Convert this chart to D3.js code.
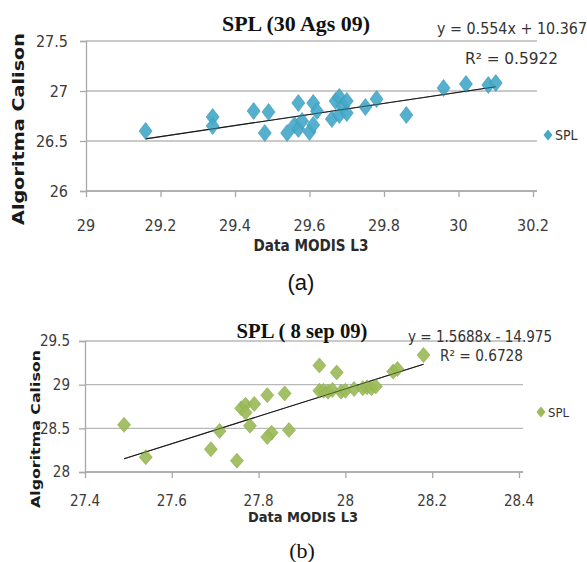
<!DOCTYPE html>
<html>
<head>
<meta charset="utf-8">
<script src="https://cdn.jsdelivr.net/npm/d3@7"></script>
<style>
  html, body { margin: 0; padding: 0; background: #fff; }
  svg { display: block; }
  .cond { font-family: "DejaVu Sans Condensed", "DejaVu Sans", sans-serif; font-stretch: condensed; }
</style>
</head>
<body>
<svg id="chart" width="587" height="562"></svg>
<script>
// ---- Panel (a): SPL 30 Ags 09 ----
const modisA = [29.16, 29.34, 29.34, 29.45, 29.48, 29.49, 29.54, 29.56, 29.57, 29.57,
                29.58, 29.60, 29.61, 29.62, 29.61, 29.66, 29.67, 29.68, 29.68, 29.69,
                29.70, 29.70, 29.75, 29.78, 29.86, 29.96, 30.02, 30.08, 30.10];
const calisonA = [26.60, 26.74, 26.65, 26.80, 26.58, 26.79, 26.58, 26.66, 26.88, 26.62,
                  26.70, 26.59, 26.88, 26.80, 26.66, 26.72, 26.90, 26.94, 26.76, 26.85,
                  26.78, 26.90, 26.84, 26.92, 26.76, 27.03, 27.07, 27.06, 27.08];
const xTicksA = [29, 29.2, 29.4, 29.6, 29.8, 30, 30.2];
const xTickLabelsA = ["29", "29.2", "29.4", "29.6", "29.8", "30", "30.2"];
const yTicksA = [26, 26.5, 27, 27.5];
const yTickLabelsA = ["26", "26.5", "27", "27.5"];
const trendA = { slope: 0.554, intercept: 10.367 };
const equationA = "y = 0.554x + 10.367";
const r2A = "R² = 0.5922";
const titleA = "SPL (30 Ags 09)";

// ---- Panel (b): SPL 8 sep 09 ----
const modisB = [27.49, 27.54, 27.69, 27.71, 27.75, 27.76, 27.77, 27.77, 27.79, 27.78,
                27.82, 27.83, 27.82, 27.86, 27.87, 27.94, 27.94, 27.95, 27.96, 27.97,
                27.98, 27.99, 28.00, 28.02, 28.04, 28.05, 28.06, 28.07, 28.11, 28.12, 28.18];
const calisonB = [28.54, 28.17, 28.26, 28.47, 28.13, 28.73, 28.77, 28.68, 28.78, 28.53,
                  28.88, 28.45, 28.40, 28.90, 28.48, 28.93, 29.22, 28.93, 28.92, 28.94,
                  29.14, 28.92, 28.93, 28.95, 28.96, 28.97, 28.96, 28.98, 29.15, 29.18, 29.34];
const xTicksB = [27.4, 27.6, 27.8, 28, 28.2, 28.4];
const xTickLabelsB = ["27.4", "27.6", "27.8", "28", "28.2", "28.4"];
const yTicksB = [28, 28.5, 29, 29.5];
const yTickLabelsB = ["28", "28.5", "29", "29.5"];
const trendB = { slope: 1.5688, intercept: -14.975 };
const equationB = "y = 1.5688x - 14.975";
const r2B = "R² = 0.6728";
const titleB = "SPL ( 8 sep 09)";

const xAxisTitle = "Data MODIS L3";
const yAxisTitle = "Algoritma Calison";
const seriesName = "SPL";

const svg = d3.select("#chart");

function diamond(hw, hh) {
  return `M0,${-hh}L${hw},0L0,${hh}L${-hw},0Z`;
}

function drawPanel(p) {
  const g = svg.append("g");
  const x = d3.scaleLinear().domain(d3.extent(p.xTicks)).range([p.left, p.right]);
  const y = d3.scaleLinear().domain(d3.extent(p.yTicks)).range([p.bottom, p.top]);

  // horizontal gridlines
  g.append("g").selectAll("line").data(p.yTicks).join("line")
    .attr("x1", p.left).attr("x2", p.right + 4)
    .attr("y1", d => y(d)).attr("y2", d => y(d))
    .attr("stroke", "#b8b8b8").attr("stroke-width", 1.3);

  // x axis (ticks below the line)
  const xAxis = d3.axisBottom(x).tickValues(p.xTicks).tickSize(6).tickFormat("");
  const gx = g.append("g").attr("transform", `translate(0,${p.bottom})`).call(xAxis);
  gx.select(".domain").attr("stroke", "#a8a8a8").attr("stroke-width", 1.3).attr("d", `M${p.left},0H${p.right + 4}`);
  gx.selectAll(".tick line").attr("stroke", "#a8a8a8").attr("stroke-width", 1.3);

  // y axis
  const yAxis = d3.axisLeft(y).tickValues(p.yTicks).tickSize(6).tickFormat("");
  const gy = g.append("g").attr("transform", `translate(${p.left},0)`).call(yAxis);
  gy.select(".domain").attr("stroke", "#a8a8a8").attr("stroke-width", 1.3);
  gy.selectAll(".tick line").attr("stroke", "#a8a8a8").attr("stroke-width", 1.3);

  // tick labels
  g.append("g").selectAll("text").data(p.xTicks).join("text")
    .attr("class", "cond")
    .attr("x", d => x(d)).attr("y", p.xLabelY)
    .attr("text-anchor", "middle").attr("font-size", p.tickSize)
    .attr("fill", "#3a3a3a")
    .text((d, i) => p.xTickLabels[i]);
  g.append("g").selectAll("text").data(p.yTicks).join("text")
    .attr("class", "cond")
    .attr("x", p.left - p.yLabelGap).attr("y", d => y(d) + p.tickSize * 0.36)
    .attr("text-anchor", "end").attr("font-size", p.tickSize)
    .attr("fill", "#3a3a3a")
    .text((d, i) => p.yTickLabels[i]);

  // trend line over the range of the data
  const [x0, x1] = d3.extent(p.xs);
  g.append("line")
    .attr("x1", x(x0)).attr("y1", y(p.trend.slope * x0 + p.trend.intercept))
    .attr("x2", x(x1)).attr("y2", y(p.trend.slope * x1 + p.trend.intercept))
    .attr("stroke", "#1a1a1a").attr("stroke-width", 1.1);

  // diamond markers
  g.append("g").selectAll("path").data(p.xs.map((v, i) => [v, p.ys[i]])).join("path")
    .attr("transform", d => `translate(${x(d[0])},${y(d[1])})`)
    .attr("d", diamond(p.mw, p.mh))
    .attr("fill", p.color).attr("fill-opacity", 0.92)
    .attr("stroke", p.edge).attr("stroke-width", 0.6);

  // trend line drawn again thinly over the markers
  g.append("line")
    .attr("x1", x(x0)).attr("y1", y(p.trend.slope * x0 + p.trend.intercept))
    .attr("x2", x(x1)).attr("y2", y(p.trend.slope * x1 + p.trend.intercept))
    .attr("stroke", "#1a1a1a").attr("stroke-width", 0.8).attr("stroke-opacity", 0.7);

  // title
  g.append("text")
    .attr("x", p.titleX).attr("y", p.titleY)
    .attr("text-anchor", "middle")
    .attr("font-family", "'Liberation Serif', 'Times New Roman', serif")
    .attr("font-weight", "bold").attr("font-size", p.titleSize)
    .attr("textLength", p.titleLen).attr("lengthAdjust", "spacingAndGlyphs")
    .attr("fill", "#111")
    .text(p.title);

  // regression equation and R²
  g.append("text").attr("class", "cond")
    .attr("x", p.eqX).attr("y", p.eqY)
    .attr("font-size", p.eqSize).attr("fill", "#333")
    .attr("textLength", p.eqLen).attr("lengthAdjust", "spacingAndGlyphs")
    .text(p.equation);
  g.append("text").attr("class", "cond")
    .attr("x", p.r2X).attr("y", p.r2Y)
    .attr("font-size", p.eqSize).attr("fill", "#333")
    .attr("textLength", p.r2Len).attr("lengthAdjust", "spacingAndGlyphs")
    .text(p.r2);

  // legend
  g.append("path")
    .attr("transform", `translate(${p.legX},${p.legY})`)
    .attr("d", diamond(4.5, 5.5)).attr("fill", p.color);
  g.append("text").attr("class", "cond")
    .attr("x", p.legX + 7).attr("y", p.legY + 5)
    .attr("font-size", p.legSize).attr("fill", "#333")
    .text(seriesName);

  // axis titles
  g.append("text")
    .attr("x", p.xTitleX).attr("y", p.xTitleY)
    .attr("text-anchor", "middle")
    .attr("font-family", "'DejaVu Sans Condensed', 'DejaVu Sans', sans-serif")
    .attr("font-weight", "bold").attr("font-size", p.xTitleSize)
    .attr("textLength", p.xTitleLen).attr("lengthAdjust", "spacingAndGlyphs")
    .attr("fill", "#2a2a2a")
    .text(xAxisTitle);
  g.append("text")
    .attr("transform", `translate(${p.yTitleX},${p.yTitleY}) rotate(-90)`)
    .attr("text-anchor", "middle")
    .attr("font-family", "'DejaVu Sans', Verdana, sans-serif")
    .attr("font-weight", "bold").attr("font-size", p.yTitleSize)
    .attr("textLength", p.yTitleLen).attr("lengthAdjust", "spacingAndGlyphs")
    .attr("fill", "#1a1a1a")
    .text(yAxisTitle);

  // panel caption
  g.append("text")
    .attr("x", p.capX).attr("y", p.capY)
    .attr("text-anchor", "middle")
    .attr("font-family", p.capFont)
    .attr("font-size", 22).attr("fill", "#111")
    .text(p.caption);
}

drawPanel({
  xs: modisA, ys: calisonA, xTicks: xTicksA, xTickLabels: xTickLabelsA,
  yTicks: yTicksA, yTickLabels: yTickLabelsA, trend: trendA,
  left: 86, right: 533, top: 41, bottom: 191,
  tickSize: 16, xLabelY: 231, yLabelGap: 18,
  mw: 6.5, mh: 8.5, color: "#45a9c8", edge: "#3b97b5",
  title: titleA, titleX: 296, titleY: 31, titleSize: 22, titleLen: 148,
  equation: equationA, eqX: 437, eqY: 34, eqSize: 16, eqLen: 150,
  r2: r2A, r2X: 465, r2Y: 64, r2Len: 93,
  legX: 548, legY: 135, legSize: 14,
  xTitleX: 311, xTitleY: 251, xTitleSize: 15, xTitleLen: 115,
  yTitleX: 24, yTitleY: 129, yTitleSize: 15, yTitleLen: 192,
  caption: "(a)", capX: 301, capY: 290, capFont: "'Liberation Sans', Arial, sans-serif"
});

drawPanel({
  xs: modisB, ys: calisonB, xTicks: xTicksB, xTickLabels: xTickLabelsB,
  yTicks: yTicksB, yTickLabels: yTickLabelsB, trend: trendB,
  left: 85, right: 519, top: 341, bottom: 472,
  tickSize: 15, xLabelY: 506, yLabelGap: 15,
  mw: 6.5, mh: 7.5, color: "#9bbb59", edge: "#8aab48",
  title: titleB, titleX: 302, titleY: 338, titleSize: 20, titleLen: 131,
  equation: equationB, eqX: 408, eqY: 342, eqSize: 15, eqLen: 144,
  r2: r2B, r2X: 440, r2Y: 361, r2Len: 83,
  legX: 541, legY: 412, legSize: 13,
  xTitleX: 303, xTitleY: 522, xTitleSize: 14, xTitleLen: 110,
  yTitleX: 40, yTitleY: 429, yTitleSize: 13, yTitleLen: 158,
  caption: "(b)", capX: 302, capY: 558, capFont: "'Liberation Serif', 'Times New Roman', serif"
});
</script>
</body>
</html>
